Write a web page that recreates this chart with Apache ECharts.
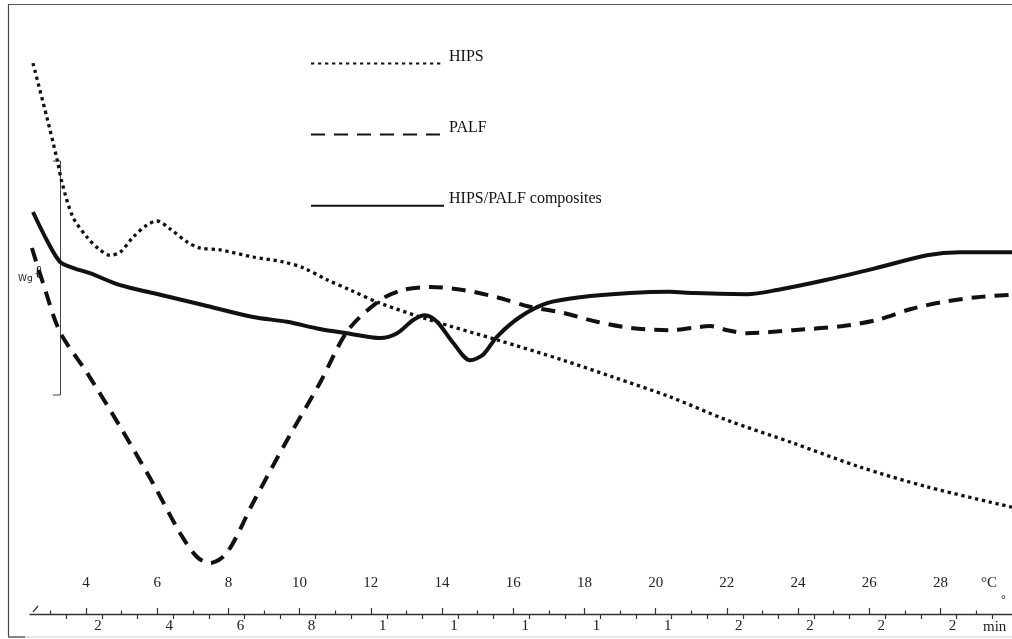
<!DOCTYPE html>
<html><head><meta charset="utf-8">
<script src="https://cdn.jsdelivr.net/npm/echarts@6/dist/echarts.min.js"></script>
<style>html,body{margin:0;padding:0;background:#fff}#c{width:1012px;height:639px}</style>
</head><body><div id="c"></div>
<script>
// Temperature (°C) and relative heat-flow values
const hipsTemp = [2.51,2.90,3.19,3.33,3.63,4.03,4.39,4.67,4.96,5.32,5.71,5.99,6.36,6.84,7.20,7.76,8.69,9.53,10.10,10.77,11.42,12.26,13.66,15.54,17.40,18.80,20.40,22.01,23.86,25.74,27.62,30.01];
const hipsFlow = [91.8,82.8,75.7,71.8,66.2,62.8,60.7,59.8,60.3,62.8,64.8,65.5,64.2,62.0,61.0,60.7,59.5,58.7,57.7,55.7,54.0,51.8,49.0,45.7,42.3,39.5,36.2,32.3,28.5,24.5,21.2,17.8];

const palfTemp = [2.48,2.79,3.27,4.03,4.96,5.88,6.64,7.12,7.48,7.96,8.69,9.65,10.57,11.36,12.26,12.90,13.66,14.59,15.54,16.47,17.40,18.35,19.28,20.40,21.05,21.53,22.01,22.57,23.86,25.26,26.22,27.15,28.07,29.03,30.01];
const palfFlow = [61.0,55.2,47.0,40.2,31.2,21.8,13.5,9.5,8.5,10.2,18.5,29.0,38.5,47.3,52.3,54.0,54.5,54.0,52.8,51.2,50.2,48.7,47.7,47.3,47.7,48.0,47.3,46.8,47.3,48.0,49.0,50.8,52.0,52.8,53.2];

const compTemp = [2.51,2.90,3.27,3.63,4.11,4.96,5.88,7.29,8.69,9.65,10.57,11.33,12.26,12.74,13.19,13.52,13.86,14.31,14.79,15.15,15.54,16.19,16.95,17.88,19.28,20.40,21.05,22.57,23.41,24.81,26.22,27.62,28.55,30.01];
const compFlow = [67.0,62.3,58.7,57.7,56.8,54.8,53.5,51.5,49.5,48.7,47.5,46.8,46.0,46.8,49.0,49.8,48.7,45.2,42.3,43.2,46.2,49.5,51.8,52.8,53.5,53.7,53.5,53.3,54.0,55.7,57.7,59.8,60.3,60.3];

// Axis ticks and labels
const tempMajorTicks = [4,6,8,10,12,14,16,18,20,22,24,26,28];
const tempMinorTicks = [3,5,7,9,11,13,15,17,19,21,23,25,27,29];
const timeTicks = [1,2,3,4,5,6,7,8,9,10,11,12,13,14,15,16,17,18,19,20,21,22,23,24,25,26,27];
const timeLabelValues = [2,4,6,8,10,12,14,16,18,20,22,24,26];
const timeLabels = ['2','4','6','8','1','1','1','1','1','2','2','2','2'];

const seriesNames = ['HIPS','PALF','HIPS/PALF composites'];

const zip = (a,b) => a.map((v,i)=>[v,b[i]]);
const serif = 'Liberation Serif, Times New Roman, serif';
const ink = '#111';

const tMin = 2.427, tMax = 30.01, mMin = -0.022, mMax = 27.56;

const chart = echarts.init(document.getElementById('c'), null, {renderer:'canvas'});
chart.setOption({
  animation:false,
  backgroundColor:'#fff',
  grid:{left:30, right:0, top:14, bottom:25, containLabel:false},
  legend:{
    data:seriesNames, orient:'vertical', left:305, top:44,
    itemWidth:133, itemHeight:14, itemGap:51,
    itemStyle:{opacity:0},
    formatter:'{a|{name}}',
    textStyle:{fontFamily:serif, fontSize:16, color:ink,
      rich:{a:{fontFamily:serif, fontSize:16, color:ink, padding:[0,0,13,0]}}},
    selectedMode:false
  },
  xAxis:[
    {type:'value', min:tMin, max:tMax, position:'bottom',
     axisLine:{show:true, onZero:false, lineStyle:{color:'#333', width:1.3}},
     axisTick:{show:true, inside:true, length:6, customValues:tempMajorTicks, lineStyle:{color:'#333', width:1.2}},
     axisLabel:{show:true, inside:true, margin:23, customValues:tempMajorTicks, fontFamily:serif, fontSize:15, color:'#222'},
     splitLine:{show:false}},
    {type:'value', min:tMin, max:tMax, position:'bottom',
     axisLine:{show:false, onZero:false},
     axisTick:{show:true, inside:true, length:3.5, customValues:tempMinorTicks, lineStyle:{color:'#333', width:1.2}},
     axisLabel:{show:false}, splitLine:{show:false}},
    {type:'value', min:mMin, max:mMax, position:'bottom',
     axisLine:{show:false, onZero:false},
     axisTick:{show:true, inside:false, length:5, customValues:timeTicks, lineStyle:{color:'#333', width:1.2}},
     axisLabel:{show:true, margin:5, customValues:timeLabelValues, padding:[0,8,0,0],
       formatter:(v)=>{const i=timeLabelValues.indexOf(Math.round(v)); return i>=0?timeLabels[i]:'';},
       fontFamily:serif, fontSize:15, color:'#222'},
     splitLine:{show:false}}
  ],
  yAxis:{type:'value', min:0, max:100, show:false},
  series:[
    {name:seriesNames[0], type:'line', xAxisIndex:0, data:zip(hipsTemp,hipsFlow), smooth:0.3, symbol:'none',
     lineStyle:{color:ink, width:3.3, type:[3.3,3.7], cap:'butt'}, itemStyle:{color:ink}},
    {name:seriesNames[1], type:'line', xAxisIndex:0, data:zip(palfTemp,palfFlow), smooth:0.3, symbol:'none',
     lineStyle:{color:ink, width:4, type:[14,9], cap:'butt'}, itemStyle:{color:ink}},
    {name:seriesNames[2], type:'line', xAxisIndex:0, data:zip(compTemp,compFlow), smooth:0.3, symbol:'none',
     lineStyle:{color:ink, width:4}, itemStyle:{color:ink}}
  ],
  graphic:[
    // scanned frame
    {type:'line', shape:{x1:8.5,y1:4,x2:8.5,y2:637}, style:{stroke:'#444', lineWidth:1.2}, silent:true},
    {type:'line', shape:{x1:8,y1:4.5,x2:1012,y2:4.5}, style:{stroke:'#555', lineWidth:1.2}, silent:true},
    {type:'line', shape:{x1:8,y1:637,x2:1012,y2:637}, style:{stroke:'#d0d0d0', lineWidth:1}, silent:true},
    {type:'line', shape:{x1:8,y1:637,x2:25,y2:637}, style:{stroke:'#444', lineWidth:1.2}, silent:true},
    // Wg scale bracket
    {type:'polyline', shape:{points:[[53,161],[60.5,161],[60.5,395],[53,395]]}, style:{stroke:'#444', lineWidth:1, fill:null}, silent:true},
    {type:'text', x:18, y:279, style:{text:'Wg', font:'9px DejaVu Sans, sans-serif', fill:'#222', verticalAlign:'middle'}, silent:true},
    {type:'text', x:35, y:273, style:{text:'ℓ', font:'bold 18px Liberation Serif, serif', fill:'#222', verticalAlign:'middle'}, silent:true},
    // axis decorations and unit labels
    {type:'line', shape:{x1:33,y1:612,x2:38,y2:606}, style:{stroke:'#333', lineWidth:1.2}, silent:true},
    {type:'text', x:981, y:583, style:{text:'°C', font:'15px Liberation Serif, serif', fill:'#222', verticalAlign:'middle'}, silent:true},
    {type:'text', x:983, y:627, style:{text:'min', font:'15px Liberation Serif, serif', fill:'#222', verticalAlign:'middle'}, silent:true},
    {type:'text', x:1001, y:600, style:{text:'°', font:'12px Liberation Serif, serif', fill:'#222', verticalAlign:'middle'}, silent:true}
  ]
});
</script>
</body></html>
